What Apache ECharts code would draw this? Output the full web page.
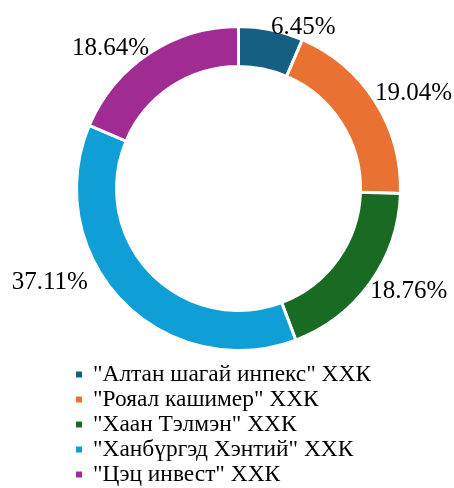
<!DOCTYPE html>
<html>
<head>
<meta charset="utf-8">
<script src="https://cdn.jsdelivr.net/npm/echarts@6/dist/echarts.min.js"></script>
<style>
html,body{margin:0;padding:0;background:#fff;}
#chart{width:454px;height:488px;}
</style>
</head>
<body>
<div id="chart"></div>
<script>
const categories = ['"Алтан шагай инпекс" ХХК', '"Рояал кашимер" ХХК', '"Хаан Тэлмэн" ХХК', '"Ханбүргэд Хэнтий" ХХК', '"Цэц инвест" ХХК'];
const values = [6.45, 19.04, 18.76, 37.11, 18.64];
const colors = ['#156082', '#E97132', '#196B24', '#0F9ED5', '#A02B93'];

const FONT = '"Liberation Serif", "Times New Roman", "DejaVu Serif", serif';
const CX = 238.5, CY = 188.5, LABEL_R = 162;
// manual nudge of a label, as in the original (label was dragged)
const labelNudge = {3: [-34, -27]};
const total = values.reduce((a, b) => a + b, 0);

const chart = echarts.init(document.getElementById('chart'), null, {renderer: 'canvas'});
chart.setOption({
  animation: false,
  color: colors,
  textStyle: {fontFamily: FONT},
  legend: {
    orient: 'vertical',
    left: 74,
    top: 362,
    padding: 0,
    itemGap: 0,
    itemWidth: 8,
    itemHeight: 8,
    icon: 'rect',
    data: categories,
    textStyle: {fontFamily: FONT, fontSize: 23.4, color: '#000', lineHeight: 25, padding: [0, 0, 0, 5]}
  },
  series: [{
    type: 'pie',
    center: [CX, CY],
    radius: [122, 162],
    startAngle: 90,
    clockwise: true,
    avoidLabelOverlap: false,
    itemStyle: {borderColor: '#fff', borderWidth: 3},
    label: {
      show: true,
      position: 'outside',
      fontFamily: FONT,
      fontSize: 25,
      color: '#000',
      formatter: p => p.value.toFixed(2) + '%'
    },
    labelLine: {show: false, length: 0, length2: 0},
    labelLayout: function (p) {
      const i = p.dataIndex;
      let before = 0;
      for (let k = 0; k < i; k++) before += values[k];
      const mid = (before + values[i] / 2) / total * 2 * Math.PI;
      const dx = Math.sin(mid), dy = -Math.cos(mid);
      const px = CX + LABEL_R * dx, py = CY + LABEL_R * dy;
      const n = labelNudge[i] || [0, 0];
      return {
        x: px + n[0],
        y: py + (dy < 0 ? -11 + 9 * dy * dy : 9) + n[1],
        align: dx > 0 ? 'left' : 'right',
        verticalAlign: 'middle'
      };
    },
    data: categories.map((name, i) => ({name: name, value: values[i]}))
  }]
});
</script>
</body>
</html>
